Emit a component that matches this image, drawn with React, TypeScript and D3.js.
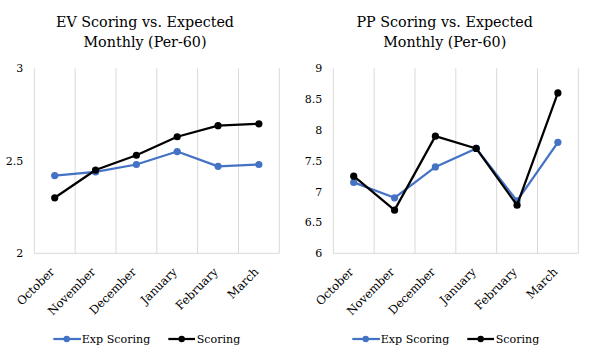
import React from "react";
import * as d3 from "d3";

const months = ["October", "November", "December", "January", "February", "March"];
const evExp = [2.42, 2.44, 2.48, 2.55, 2.47, 2.48];
const evScoring = [2.3, 2.45, 2.53, 2.63, 2.69, 2.7];
const ppExp = [7.15, 6.9, 7.4, 7.7, 6.85, 7.8];
const ppScoring = [7.25, 6.7, 7.9, 7.7, 6.78, 8.6];
const evTicks = [2, 2.5, 3];
const ppTicks = [6, 6.5, 7, 7.5, 8, 8.5, 9];
const seriesNames = ["Exp Scoring", "Scoring"];
const evTitle = ["EV Scoring vs. Expected", "Monthly (Per-60)"];
const ppTitle = ["PP Scoring vs. Expected", "Monthly (Per-60)"];

const FONT = "DejaVu Serif";
const BLUE = "#4472C4";
const BLACK = "#000000";
const GRID = "#d9d9d9";

type PanelProps = {
  left: number;
  right: number;
  titleX: number;
  legendX: number;
  title: string[];
  ticks: number[];
  exp: number[];
  scoring: number[];
};

function Panel({ left, right, titleX, legendX, title, ticks, exp, scoring }: PanelProps) {
  const top = 68.3;
  const bottom = 253.3;
  const x = d3.scaleBand<string>().domain(months).range([left, right]).padding(0);
  const y = d3
    .scaleLinear()
    .domain([ticks[0], ticks[ticks.length - 1]])
    .range([bottom, top]);
  const cx = (m: string) => (x(m) as number) + x.bandwidth() / 2;
  const line = d3
    .line<number>()
    .x((_, i) => cx(months[i]))
    .y((d) => y(d));
  const edges = months.map((m) => x(m) as number).concat([right]);
  const series = [
    { name: seriesNames[0], values: exp, color: BLUE },
    { name: seriesNames[1], values: scoring, color: BLACK },
  ];
  return (
    <g fontFamily={FONT}>
      <text x={titleX} y={26.7} textAnchor="middle" fontSize={14.3} fill="#000">
        {title[0]}
      </text>
      <text x={titleX} y={46.7} textAnchor="middle" fontSize={14.3} fill="#000">
        {title[1]}
      </text>
      {edges.map((e, i) => (
        <line key={i} x1={e} x2={e} y1={top} y2={bottom} stroke={GRID} strokeWidth={1} />
      ))}
      <line x1={left} x2={right} y1={bottom} y2={bottom} stroke={GRID} strokeWidth={1} />
      {ticks.map((t) => (
        <text key={t} x={left - 11} y={y(t)} dy="0.36em" textAnchor="end" fontSize={11} fill="#000">
          {String(t)}
        </text>
      ))}
      {months.map((m) => (
        <text
          key={m}
          transform={`translate(${cx(m) + 0.5},${272.5}) rotate(-45)`}
          textAnchor="end"
          fontSize={11.6}
          fill="#000"
        >
          {m}
        </text>
      ))}
      {series.map((s) => (
        <g key={s.name}>
          <path d={line(s.values) as string} fill="none" stroke={s.color} strokeWidth={2.25} strokeLinejoin="round" />
          {s.values.map((v, i) => (
            <circle key={i} cx={cx(months[i])} cy={y(v)} r={3.6} fill={s.color} />
          ))}
        </g>
      ))}
      <g fontSize={11.1} fill="#000">
        <line x1={legendX} x2={legendX + 27.7} y1={339} y2={339} stroke={BLUE} strokeWidth={2.25} />
        <circle cx={legendX + 13.4} cy={339} r={3.2} fill={BLUE} />
        <text x={legendX + 28.4} y={339} dy="0.35em">
          {seriesNames[0]}
        </text>
        <line x1={legendX + 115} x2={legendX + 141.7} y1={339} y2={339} stroke={BLACK} strokeWidth={2.25} />
        <circle cx={legendX + 128.4} cy={339} r={3.2} fill={BLACK} />
        <text x={legendX + 143.4} y={339} dy="0.35em">
          {seriesNames[1]}
        </text>
      </g>
    </g>
  );
}

export default function App() {
  return (
    <svg width={596} height={362} style={{ position: "absolute", left: 0, top: 0, background: "#fff" }}>
      <rect x={0} y={0} width={596} height={362} fill="#fff" />
      <Panel left={34.3} right={279.3} titleX={145} legendX={53.3} title={evTitle} ticks={evTicks} exp={evExp} scoring={evScoring} />
      <Panel left={333.3} right={578.3} titleX={444.7} legendX={352.3} title={ppTitle} ticks={ppTicks} exp={ppExp} scoring={ppScoring} />
    </svg>
  );
}
